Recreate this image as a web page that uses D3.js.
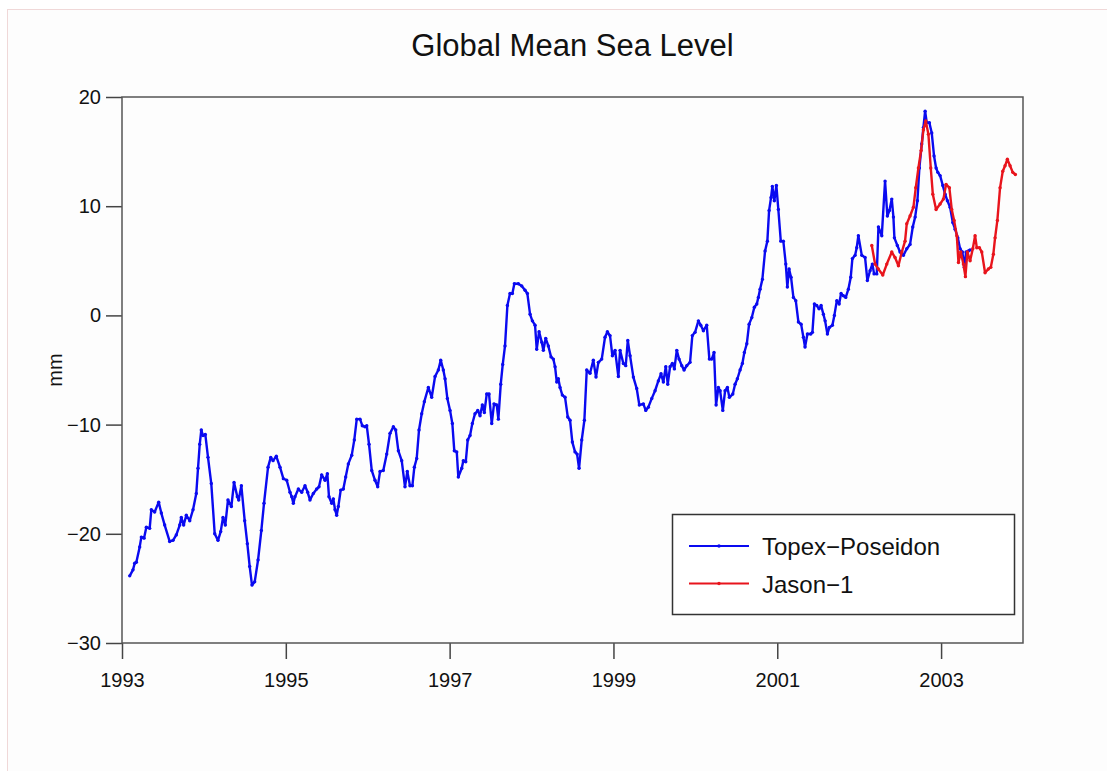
<!DOCTYPE html>
<html>
<head>
<meta charset="utf-8">
<script src="https://cdn.jsdelivr.net/npm/d3@7"></script>
<style>
  body { margin: 0; background: #fff; }
  svg { display: block; font-family: "Liberation Sans", Arial, sans-serif; }
</style>
</head>
<body>
<div id="chart"></div>
<script>
// Topex-Poseidon (decimal year, mm)
const topexYears = [
  1993.094, 1993.134, 1993.155, 1993.175, 1993.216, 1993.236, 1993.269, 1993.297, 1993.338, 1993.358,
  1993.399, 1993.448, 1993.480, 1993.521, 1993.582, 1993.623, 1993.663, 1993.705, 1993.724, 1993.753,
  1993.785, 1993.827, 1993.867, 1993.907, 1993.928, 1993.949, 1993.968, 1993.989, 1994.017, 1994.050,
  1994.090, 1994.132, 1994.172, 1994.205, 1994.233, 1994.261, 1994.294, 1994.335, 1994.368, 1994.408,
  1994.425, 1994.457, 1994.498, 1994.530, 1994.559, 1994.587, 1994.620, 1994.661, 1994.701, 1994.734,
  1994.783, 1994.816, 1994.844, 1994.884, 1994.929, 1994.970, 1995.011, 1995.051, 1995.072, 1995.092,
  1995.112, 1995.153, 1995.194, 1995.234, 1995.267, 1995.295, 1995.336, 1995.377, 1995.405, 1995.438,
  1995.479, 1995.507, 1995.527, 1995.560, 1995.580, 1995.601, 1995.621, 1995.641, 1995.670, 1995.702,
  1995.731, 1995.763, 1995.805, 1995.836, 1995.866, 1995.906, 1995.934, 1995.967, 1995.988, 1996.016,
  1996.049, 1996.089, 1996.122, 1996.150, 1996.190, 1996.232, 1996.272, 1996.313, 1996.342, 1996.374,
  1996.415, 1996.455, 1996.483, 1996.516, 1996.545, 1996.569, 1996.598, 1996.626, 1996.659, 1996.691,
  1996.740, 1996.781, 1996.822, 1996.862, 1996.891, 1996.923, 1996.944, 1996.972, 1997.005, 1997.033,
  1997.057, 1997.087, 1997.106, 1997.148, 1997.167, 1997.197, 1997.221, 1997.249, 1997.277, 1997.310,
  1997.343, 1997.371, 1997.399, 1997.424, 1997.453, 1997.481, 1997.514, 1997.542, 1997.575, 1997.595,
  1997.624, 1997.648, 1997.676, 1997.705, 1997.737, 1997.766, 1997.790, 1997.839, 1997.880, 1997.921,
  1997.949, 1997.982, 1998.010, 1998.043, 1998.063, 1998.092, 1998.125, 1998.144, 1998.173, 1998.205,
  1998.238, 1998.266, 1998.287, 1998.308, 1998.327, 1998.348, 1998.376, 1998.409, 1998.442, 1998.470,
  1998.498, 1998.531, 1998.556, 1998.580, 1998.613, 1998.645, 1998.674, 1998.714, 1998.754, 1998.787,
  1998.816, 1998.857, 1998.897, 1998.926, 1998.958, 1998.987, 1999.020, 1999.060, 1999.081, 1999.121,
  1999.150, 1999.175, 1999.203, 1999.243, 1999.284, 1999.316, 1999.365, 1999.394, 1999.426, 1999.468,
  1999.508, 1999.548, 1999.581, 1999.609, 1999.639, 1999.663, 1999.691, 1999.719, 1999.744, 1999.773,
  1999.801, 1999.834, 1999.862, 1999.895, 1999.935, 1999.963, 1999.996, 2000.037, 2000.066, 2000.098,
  2000.139, 2000.171, 2000.200, 2000.228, 2000.253, 2000.281, 2000.302, 2000.335, 2000.363, 2000.391,
  2000.415, 2000.457, 2000.485, 2000.513, 2000.546, 2000.574, 2000.598, 2000.628, 2000.656, 2000.689,
  2000.720, 2000.750, 2000.769, 2000.790, 2000.818, 2000.851, 2000.879, 2000.900, 2000.924, 2000.940,
  2000.964, 2000.989, 2001.013, 2001.043, 2001.074, 2001.104, 2001.123, 2001.144, 2001.168, 2001.197,
  2001.226, 2001.258, 2001.291, 2001.319, 2001.339, 2001.368, 2001.409, 2001.429, 2001.453, 2001.482,
  2001.510, 2001.535, 2001.563, 2001.584, 2001.612, 2001.636, 2001.673, 2001.697, 2001.727, 2001.755,
  2001.779, 2001.807, 2001.836, 2001.868, 2001.897, 2001.917, 2001.950, 2001.970, 2001.990, 2002.032,
  2002.072, 2002.100, 2002.133, 2002.161, 2002.182, 2002.215, 2002.235, 2002.276, 2002.316, 2002.344,
  2002.369, 2002.398, 2002.418, 2002.430, 2002.466, 2002.499, 2002.540, 2002.581, 2002.621, 2002.654,
  2002.683, 2002.711, 2002.735, 2002.764, 2002.784, 2002.805, 2002.825, 2002.857, 2002.886, 2002.914,
  2002.939, 2002.960, 2002.988, 2003.021, 2003.049, 2003.077, 2003.110, 2003.143, 2003.171, 2003.204,
  2003.232, 2003.260, 2003.284, 2003.305, 2003.333, 2003.354
];
const topexValues = [
  -23.85, -23.3, -22.7, -22.6, -21.2, -20.3, -20.4, -19.4, -19.5, -17.8,
  -18.0, -17.1, -18.1, -19.2, -20.7, -20.6, -20.1, -19.2, -18.5, -19.2,
  -18.3, -18.8, -17.8, -16.3, -14.0, -11.8, -10.5, -11.0, -10.9, -13.0,
  -15.4, -20.0, -20.6, -19.8, -18.5, -19.2, -16.9, -17.5, -15.3, -16.6,
  -16.9, -15.6, -18.8, -20.9, -23.0, -24.7, -24.4, -22.4, -19.7, -17.2,
  -13.9, -13.0, -13.3, -12.9, -13.9, -14.95, -15.1, -16.2, -16.6, -17.2,
  -16.6, -15.9, -16.2, -15.6, -16.2, -16.9, -16.3, -15.9, -15.7, -14.6,
  -15.1, -14.5, -16.6, -17.2, -16.8, -17.8, -18.3, -17.5, -16.0, -15.9,
  -14.8, -13.6, -12.8, -11.4, -9.5, -9.5, -10.1, -10.2, -10.1, -11.8,
  -14.2, -15.1, -15.7, -14.3, -14.2, -12.7, -10.8, -10.2, -10.5, -12.4,
  -13.3, -15.7, -14.3, -15.6, -15.6, -13.9, -13.1, -10.5, -9.0, -7.9,
  -6.6, -7.5, -5.6, -5.0, -4.1, -5.0, -5.8, -7.6, -8.7, -9.9,
  -12.4, -12.5, -14.8, -14.0, -13.3, -13.4, -11.4, -11.0, -9.9, -9.0,
  -8.7, -9.2, -8.2, -8.9, -7.2, -7.2, -9.9, -8.1, -8.2, -9.5,
  -6.3, -4.5, -2.8, 0.9, 2.0, 2.0, 2.9, 2.9, 2.7, 2.3,
  2.0, 0.1, -0.5, -0.9, -3.1, -1.5, -2.45, -3.2, -2.1, -2.8,
  -3.8, -4.0, -4.7, -6.1, -5.8, -6.6, -7.3, -7.5, -9.3, -9.6,
  -11.6, -12.5, -12.7, -14.0, -11.4, -9.6, -5.0, -5.3, -4.1, -5.65,
  -4.3, -4.0, -2.0, -1.5, -1.85, -3.7, -3.2, -5.6, -3.2, -4.4,
  -4.6, -2.3, -3.7, -5.65, -6.7, -8.2, -8.1, -8.7, -8.4, -7.6,
  -6.9, -6.0, -5.35, -6.1, -4.7, -6.3, -4.7, -4.4, -4.9, -3.2,
  -4.0, -4.6, -5.0, -4.6, -4.3, -1.85, -1.55, -0.5, -0.9, -1.4,
  -0.9, -4.0, -4.0, -3.4, -8.2, -6.6, -6.9, -8.7, -6.9, -6.6,
  -7.5, -7.2, -6.3, -5.8, -5.0, -4.4, -3.4, -2.6, -0.8, -0.2,
  0.75, 1.05, 1.65, 2.4, 3.3, 5.9, 6.8, 9.6, 10.8, 11.8,
  10.5, 11.9, 9.7, 6.8, 6.8, 4.7, 2.6, 4.25, 3.5, 1.65,
  1.35, -0.6, -0.8, -2.0, -2.9, -1.7, -1.7, -1.55, 1.05, 0.9,
  0.6, 0.9, 0.1, -0.5, -1.7, -1.1, -0.9, 0.0, 1.35, 1.05,
  2.0, 1.8, 1.65, 2.4, 3.5, 5.2, 5.5, 6.2, 7.3, 5.5,
  5.3, 3.2, 4.1, 4.7, 3.8, 3.8, 8.1, 7.3, 12.3, 9.1,
  9.6, 10.65, 9.0, 7.1, 6.4, 5.8, 5.5, 6.1, 6.5, 8.1,
  9.0, 10.5, 13.5, 15.7, 17.2, 18.7, 17.65, 17.65, 16.7, 14.6,
  13.5, 13.1, 12.8, 11.9, 11.1, 10.5, 9.9, 8.5, 7.9, 7.1,
  6.1, 5.8, 4.4, 5.8, 5.9, 6.0
];

// Jason-1 (decimal year, mm)
const jasonYears = [
  2002.154, 2002.194, 2002.234, 2002.288, 2002.337, 2002.398, 2002.438, 2002.479, 2002.520, 2002.560,
  2002.581, 2002.621, 2002.662, 2002.691, 2002.723, 2002.756, 2002.784, 2002.813, 2002.845, 2002.874,
  2002.899, 2002.939, 2002.988, 2003.028, 2003.061, 2003.101, 2003.130, 2003.159, 2003.192, 2003.212,
  2003.240, 2003.272, 2003.297, 2003.321, 2003.354, 2003.387, 2003.415, 2003.436, 2003.468, 2003.497,
  2003.537, 2003.577, 2003.607, 2003.638, 2003.659, 2003.687, 2003.720, 2003.753, 2003.781, 2003.809,
  2003.842, 2003.875, 2003.907
];
const jasonValues = [
  6.4, 4.7, 4.25, 3.7, 4.7, 5.8, 5.3, 4.55, 5.8, 6.8,
  8.4, 9.1, 9.9, 11.7, 13.5, 15.1, 17.0, 17.8, 16.6, 13.5,
  11.1, 9.7, 10.2, 10.65, 12.0, 11.7, 9.7, 8.7, 7.3, 4.85,
  5.8, 4.7, 3.55, 5.8, 5.0, 6.1, 7.3, 6.2, 6.2, 5.8,
  3.9, 4.25, 4.4, 5.6, 7.1, 8.7, 11.7, 13.2, 13.7, 14.3,
  13.7, 13.1, 12.9
];

const seriesNames = ['Topex\u2212Poseidon', 'Jason\u22121'];
const xTicks = [1993, 1995, 1997, 1999, 2001, 2003];
const yTicks = [-30, -20, -10, 0, 10, 20];
const xDomain = [1993, 2004];
const yDomain = [-30, 20];

const W = 1107, H = 771;
const margin = { top: 97, right: 84, bottom: 128, left: 122 };
const width = W - margin.left - margin.right;
const height = H - margin.top - margin.bottom;

const series = [
    { name: seriesNames[0], color: '#0a0af0', data: topexYears.map((t, i) => ({ t: t, v: topexValues[i] })) },
    { name: seriesNames[1], color: '#e8141c', data: jasonYears.map((t, i) => ({ t: t, v: jasonValues[i] })) }
];

const svg = d3.select('#chart').append('svg')
    .attr('width', W)
    .attr('height', H);

// faint page frame
svg.append('rect')
    .attr('x', 7.5).attr('y', 9.5)
    .attr('width', W).attr('height', H)
    .attr('fill', '#fdfdfd')
    .attr('stroke', '#f0d8d8');

svg.append('text')
    .attr('x', margin.left + width / 2)
    .attr('y', 56)
    .attr('text-anchor', 'middle')
    .style('font-size', '31px')
    .style('fill', '#111')
    .text('Global Mean Sea Level');

const g = svg.append('g')
    .attr('transform', 'translate(' + margin.left + ',' + margin.top + ')');

const x = d3.scaleLinear().domain(xDomain).range([0, width]);
const y = d3.scaleLinear().domain(yDomain).range([height, 0]);

// 坐标轴
const xAxis = g.append('g')
    .attr('transform', 'translate(0,' + height + ')')
    .call(d3.axisBottom(x).tickValues(xTicks).tickFormat(d3.format('d')).tickSize(16).tickPadding(14));
const yAxis = g.append('g')
    .call(d3.axisLeft(y).tickValues(yTicks).tickSize(16).tickPadding(5));

[xAxis, yAxis].forEach((a) => {
    a.select('.domain').remove();
    a.selectAll('line').attr('stroke', '#444').attr('stroke-width', 1.5);
    a.selectAll('text').style('font-size', '20px').style('fill', '#111').style('font-family', '"Liberation Sans", Arial, sans-serif');
});

g.append('rect')
    .attr('width', width)
    .attr('height', height)
    .attr('fill', 'none')
    .attr('stroke', '#555')
    .attr('stroke-width', 1.5);

svg.append('text')
    .attr('transform', 'translate(62,370) rotate(-90)')
    .attr('text-anchor', 'middle')
    .style('font-size', '20px')
    .style('fill', '#111')
    .text('mm');

// 画线条
const line = d3.line()
    .x((d) => x(d.t))
    .y((d) => y(d.v));

series.forEach((s) => {
    g.append('path')
        .datum(s.data)
        .attr('d', line)
        .attr('fill', 'none')
        .attr('stroke', s.color)
        .attr('stroke-width', 2.4)
        .attr('stroke-linejoin', 'round');
    g.selectAll(null)
        .data(s.data)
        .enter()
        .append('circle')
        .attr('cx', (d) => x(d.t))
        .attr('cy', (d) => y(d.v))
        .attr('r', 1.7)
        .attr('fill', s.color);
});

// legend
const legend = svg.append('g').attr('transform', 'translate(672,514)');
legend.append('rect')
    .attr('x', 0.5).attr('y', 0.5)
    .attr('width', 342).attr('height', 100)
    .attr('fill', '#fff')
    .attr('stroke', '#333')
    .attr('stroke-width', 1.5);

const items = legend.selectAll('g.item')
    .data(series)
    .enter()
    .append('g')
    .attr('class', 'item')
    .attr('transform', (d, i) => 'translate(0,' + (32 + i * 37.5) + ')');
items.append('line')
    .attr('x1', 17).attr('x2', 77)
    .attr('stroke', (d) => d.color)
    .attr('stroke-width', 2);
items.append('circle')
    .attr('cx', 47).attr('r', 1.7)
    .attr('fill', (d) => d.color);
items.append('text')
    .attr('x', 90)
    .attr('y', 9)
    .style('font-size', '24px')
    .style('fill', '#111')
    .text((d) => d.name);
</script>
</body>
</html>
